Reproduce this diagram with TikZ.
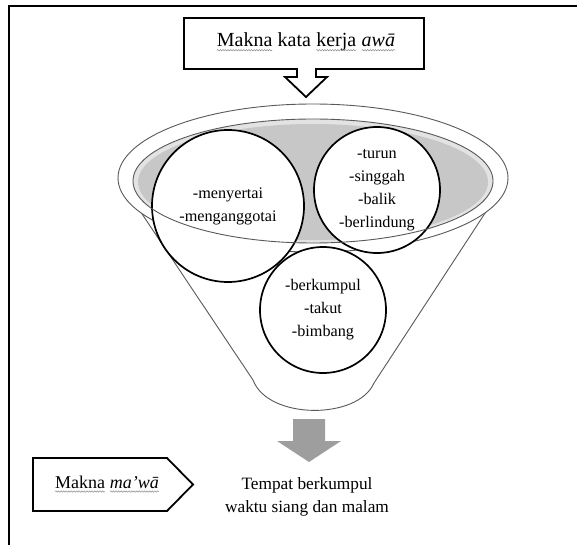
\documentclass[tikz,border=0pt]{standalone}
\usepackage{fontspec}
\setmainfont{Liberation Serif}
\usetikzlibrary{positioning,decorations.pathmorphing}

\newcommand{\salah}[1]{\tikz[baseline=(w.base)]{\node[inner sep=0pt,outer sep=0pt] (w) {#1};
  \draw[black!45,line width=0.5pt,decorate,decoration={snake,amplitude=0.7pt,segment length=2.6pt}]
  ([yshift=-3.5pt]w.base west) -- ([yshift=-3.5pt]w.base east);}}

\begin{document}
\begin{tikzpicture}[x=1pt,y=-1pt,
  bulat/.style={circle,draw,line width=1.7pt,fill=white,inner sep=0pt,align=center,font=\fontsize{16.2}{23}\selectfont},
  kotak/.style={line width=1.8pt,line join=miter},
  garis/.style={draw=black!65,line width=0.9pt}]
\useasboundingbox (0,0) rectangle (577,545);
% bingkai
\draw[line width=2.5pt] (9,545) -- (9,6) -- (577,6);
% kotak judul dengan panah
\draw[kotak] (184,18) -- (424,18) -- (424,69) -- (316,69) -- (316,77) -- (327,77) -- (306,97)
  -- (285,77) -- (297,77) -- (297,69) -- (184,69) -- cycle;
\node[font=\fontsize{20}{24}\selectfont] (judul) at (306,42) {\salah{Makna} kata \salah{kerja} \salah{\textit{awā}}};
% corong
\draw[garis,fill=white] (118,178) -- (253,380) .. controls (268,420) and (358,420) .. (374,383) -- (508,178);
\draw[garis,fill=white] (313,178) ellipse [x radius=195,y radius=74];
\fill[black!11] (313,181) ellipse [x radius=180,y radius=62];
\fill[black!22] (313,182) ellipse [x radius=175,y radius=58];
% lingkaran
\node[bulat,minimum size=152pt] (sertai) at (228,206) {-menyertai\\-menganggotai};
\node[bulat,minimum size=126pt] (turun) at (377,190) {-turun\\-singgah\\-balik\\-berlindung};
\node[bulat,minimum size=126pt] (kumpul) at (323,310) {-berkumpul\\-takut\\-bimbang};
\draw[garis] (313,181) ellipse [x radius=180,y radius=62];
% panah abu-abu
\fill[black!38] (293,419) -- (325,419) -- (325,441) -- (341,441) -- (309,462) -- (277,441) -- (293,441) -- cycle;
% makna ma'wa
\draw[kotak] (33,458) -- (167,458) -- (193,484.5) -- (167,511) -- (33,511) -- cycle;
\node[font=\fontsize{18}{22}\selectfont] (mawa) at (107,484) {\salah{Makna} \salah{\textit{ma’wā}}};
\node[align=center,font=\fontsize{17.3}{23}\selectfont] (hasil) at (307,497) {Tempat berkumpul\\waktu siang dan malam};
\end{tikzpicture}
\end{document}
